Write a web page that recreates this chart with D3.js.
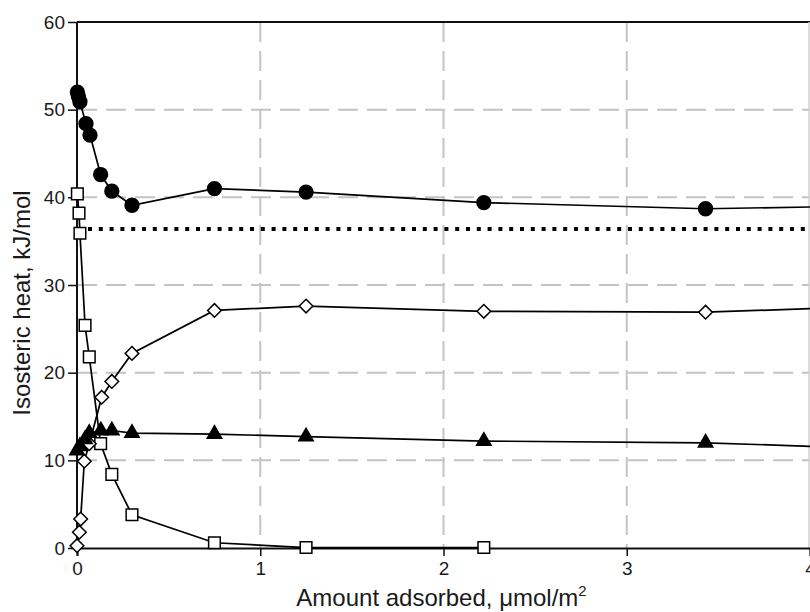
<!DOCTYPE html>
<meta charset="utf-8">
<html>
<head>
<script src="https://d3js.org/d3.v7.min.js"></script>
<style>
  body { margin: 0; background: #fff; }
  text { font-family: "Liberation Sans", Arial, sans-serif; fill: #1a1a1a; }
</style>
</head>
<body>
<svg id="chart"></svg>
<script>
// values: [amount adsorbed, isosteric heat]
var circles = [[0.002,52.0],[0.008,51.5],[0.016,50.9],[0.049,48.4],[0.071,47.1],[0.129,42.6],
               [0.19,40.7],[0.30,39.1],[0.75,41.0],[1.25,40.6],[2.22,39.4],[3.43,38.7]];
var squares = [[0.002,40.4],[0.011,38.2],[0.016,35.9],[0.044,25.4],[0.067,21.8],[0.129,11.9],
               [0.19,8.4],[0.30,3.8],[0.75,0.6],[1.25,0.05],[2.22,0.05]];
var diamonds = [[0.0,0.26],[0.013,1.8],[0.02,3.3],[0.04,9.9],[0.067,11.9],[0.135,17.2],
                [0.19,19.0],[0.30,22.2],[0.75,27.1],[1.25,27.6],[2.22,27.0],[3.43,26.9]];
var triangles = [[0.0,11.1],[0.016,11.6],[0.044,12.4],[0.067,13.1],[0.13,13.4],[0.19,13.4],
                 [0.30,13.1],[0.75,13.0],[1.25,12.7],[2.22,12.2],[3.43,12.0]];
// where the lines leave the plot on the right (x = 4)
var edgeX = 4;
var circlesEdge = 38.9, diamondsEdge = 27.3, trianglesEdge = 11.6;
// dotted reference level
var refLevel = 36.4, refStart = 0.06;

var xTicks = [0, 1, 2, 3, 4];
var yTicks = [0, 10, 20, 30, 40, 50, 60];

var margin = {top: 22, right: 0, bottom: 64, left: 77},
    width = 810 - margin.left - margin.right,
    height = 612 - margin.top - margin.bottom;

var svg = d3.select("#chart")
    .attr("width", 810)
    .attr("height", 612);
var g = svg.append("g")
    .attr("transform", "translate(" + margin.left + "," + margin.top + ")");

var x = d3.scaleLinear().domain([0, 4]).range([0, width]);
var y = d3.scaleLinear().domain([0, 60]).range([height, 0]);

// grid
g.selectAll(".hgrid").data(yTicks.slice(1, -1)).enter().append("line")
    .attr("x1", 0).attr("x2", width)
    .attr("y1", function(d) { return y(d); }).attr("y2", function(d) { return y(d); })
    .style("stroke", "#c4c4c4").style("stroke-width", 2).style("stroke-dasharray", "20,9");
g.selectAll(".vgrid").data(xTicks.slice(1, -1)).enter().append("line")
    .attr("y1", 0).attr("y2", height)
    .attr("x1", function(d) { return x(d); }).attr("x2", function(d) { return x(d); })
    .style("stroke", "#c4c4c4").style("stroke-width", 2).style("stroke-dasharray", "20,9");

// frame: top black, right light
g.append("line").attr("x1", 0).attr("x2", width).attr("y1", 0).attr("y2", 0)
    .style("stroke", "#111").style("stroke-width", 2);
g.append("line").attr("x1", width - 1).attr("x2", width - 1).attr("y1", 0).attr("y2", height)
    .style("stroke", "#d0d0d0").style("stroke-width", 1.5);

// axes
var xAxis = g.append("g")
    .attr("transform", "translate(0," + height + ")")
    .call(d3.axisBottom(x).tickValues(xTicks).tickFormat(d3.format("d")).tickSizeOuter(0).tickSize(8).tickPadding(6));
var yAxis = g.append("g")
    .call(d3.axisLeft(y).tickValues(yTicks).tickSizeOuter(0).tickSize(9).tickPadding(3));
[xAxis, yAxis].forEach(function(a) {
  a.select(".domain").style("stroke", "#111").style("stroke-width", 2);
  a.selectAll(".tick line").style("stroke", "#111").style("stroke-width", 1.5);
  a.selectAll(".tick text").style("font-size", "19px").style("font-family", "Liberation Sans, Arial, sans-serif").attr("fill", "#1a1a1a");
});
yAxis.select(".domain").attr("d", "M0," + height + "V0");

// dotted line
g.append("line")
    .attr("x1", x(refStart)).attr("x2", width)
    .attr("y1", y(refLevel)).attr("y2", y(refLevel))
    .style("stroke", "#000").style("stroke-width", 4).style("stroke-dasharray", "4,6.8");

var line = d3.line().x(function(d) { return x(d[0]); }).y(function(d) { return y(d[1]); });

function drawLine(data, edge) {
  var pts = data.slice();
  if (edge != null) pts.push([edgeX, edge]);
  g.append("path").datum(pts).attr("d", line)
      .style("fill", "none").style("stroke", "#000").style("stroke-width", 1.7);
}
drawLine(squares, null);
drawLine(diamonds, diamondsEdge);
drawLine(triangles, trianglesEdge);
drawLine(circles, circlesEdge);

function drawMarks(data, type, size, fill) {
  g.selectAll(null).data(data).enter().append("path")
      .attr("transform", function(d) { return "translate(" + x(d[0]) + "," + y(d[1]) + ")"; })
      .attr("d", d3.symbol().type(type).size(size))
      .style("fill", fill).style("stroke", "#000").style("stroke-width", 1.5);
}
var diamondShape = {
  draw: function(ctx, s) {
    var r = Math.sqrt(s) / 2 * 1.15;
    ctx.moveTo(0, -r); ctx.lineTo(r, 0); ctx.lineTo(0, r); ctx.lineTo(-r, 0); ctx.closePath();
  }
};
drawMarks(squares, d3.symbolSquare, 135, "#fff");
drawMarks(diamonds, diamondShape, 140, "#fff");
drawMarks(triangles, d3.symbolTriangle, 90, "#000");
drawMarks(circles, d3.symbolCircle, 150, "#000");

// axis titles
svg.append("text")
    .attr("x", margin.left + x(2) - 2).attr("y", 606)
    .attr("text-anchor", "middle").style("font-size", "24px")
    .html("Amount adsorbed, \u03bcmol/m<tspan dy='-10' font-size='15px'>2</tspan>");
svg.append("text")
    .attr("transform", "translate(30,303)rotate(-90)")
    .attr("text-anchor", "middle").style("font-size", "24px")
    .text("Isosteric heat, kJ/mol");
</script>
</body>
</html>
